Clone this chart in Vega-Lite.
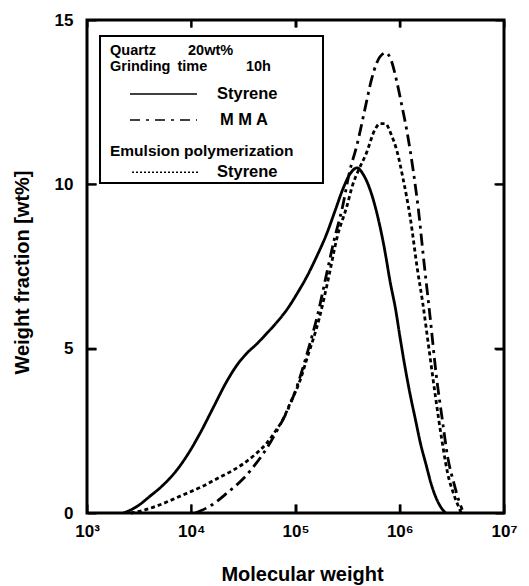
{
  "$schema": "https://vega.github.io/schema/vega-lite/v6.json",
  "width": 417,
  "height": 493,
  "autosize": {"type": "none"},
  "padding": {"left": 87, "top": 20, "right": 25, "bottom": 73},
  "config": {
    "font": "Liberation Sans",
    "view": {"stroke": "black", "strokeWidth": 3},
    "axis": {
      "domain": false, "grid": false, "ticks": true, "offset": -9,
      "labelFont": "Liberation Sans", "labelFontWeight": "bold", "labelFontSize": 17, "labelColor": "black",
      "tickColor": "#000000", "tickOpacity": 1, "tickWidth": 2, "tickSize": 9,
      "titleFont": "Liberation Sans", "titleFontWeight": "bold", "titleFontSize": 20, "titleColor": "black"
    },
    "text": {"font": "Liberation Sans", "fontWeight": "bold", "fontSize": 14.5, "color": "black", "align": "left", "baseline": "middle"}
  },
  "datasets": {
    "one": [{}],
    "xt": [{"v": 1000}, {"v": 10000}, {"v": 100000}, {"v": 1000000}, {"v": 10000000}],
    "yt": [{"v": 0}, {"v": 5}, {"v": 10}, {"v": 15}],
    "curves": [
    {"series": "Styrene", "M": 2239, "w": 0},
    {"series": "Styrene", "M": 3020, "w": 0.2},
    {"series": "Styrene", "M": 3981, "w": 0.5},
    {"series": "Styrene", "M": 5370, "w": 0.85},
    {"series": "Styrene", "M": 7244, "w": 1.3},
    {"series": "Styrene", "M": 9333, "w": 1.8},
    {"series": "Styrene", "M": 12023, "w": 2.4},
    {"series": "Styrene", "M": 16218, "w": 3.2},
    {"series": "Styrene", "M": 21878, "w": 4.0},
    {"series": "Styrene", "M": 28184, "w": 4.55},
    {"series": "Styrene", "M": 33884, "w": 4.85},
    {"series": "Styrene", "M": 42658, "w": 5.15},
    {"series": "Styrene", "M": 52481, "w": 5.45},
    {"series": "Styrene", "M": 66069, "w": 5.8},
    {"series": "Styrene", "M": 83176, "w": 6.2},
    {"series": "Styrene", "M": 104710, "w": 6.7},
    {"series": "Styrene", "M": 128820, "w": 7.2},
    {"series": "Styrene", "M": 162180, "w": 7.85},
    {"series": "Styrene", "M": 199530, "w": 8.5},
    {"series": "Styrene", "M": 239880, "w": 9.2},
    {"series": "Styrene", "M": 288400, "w": 9.9},
    {"series": "Styrene", "M": 338840, "w": 10.35},
    {"series": "Styrene", "M": 389050, "w": 10.5},
    {"series": "Styrene", "M": 446680, "w": 10.3},
    {"series": "Styrene", "M": 537030, "w": 9.7},
    {"series": "Styrene", "M": 616600, "w": 9.0},
    {"series": "Styrene", "M": 707950, "w": 8.1},
    {"series": "Styrene", "M": 812830, "w": 7.0},
    {"series": "Styrene", "M": 912010, "w": 6.2},
    {"series": "Styrene", "M": 1000000, "w": 5.4},
    {"series": "Styrene", "M": 1122000, "w": 4.45},
    {"series": "Styrene", "M": 1258900, "w": 3.6},
    {"series": "Styrene", "M": 1412500, "w": 2.85},
    {"series": "Styrene", "M": 1584900, "w": 2.1},
    {"series": "Styrene", "M": 1778300, "w": 1.5},
    {"series": "Styrene", "M": 1995300, "w": 0.9},
    {"series": "Styrene", "M": 2238700, "w": 0.45},
    {"series": "Styrene", "M": 2511900, "w": 0.15},
    {"series": "Styrene", "M": 2754200, "w": 0},
    {"series": "MMA", "M": 10965, "w": 0},
    {"series": "MMA", "M": 15849, "w": 0.25},
    {"series": "MMA", "M": 21878, "w": 0.6},
    {"series": "MMA", "M": 31623, "w": 1.05},
    {"series": "MMA", "M": 41687, "w": 1.5},
    {"series": "MMA", "M": 53703, "w": 2.0},
    {"series": "MMA", "M": 67608, "w": 2.55},
    {"series": "MMA", "M": 83176, "w": 3.1},
    {"series": "MMA", "M": 95499, "w": 3.55},
    {"series": "MMA", "M": 109650, "w": 4.1},
    {"series": "MMA", "M": 131830, "w": 4.95},
    {"series": "MMA", "M": 162180, "w": 6.0},
    {"series": "MMA", "M": 199530, "w": 7.3},
    {"series": "MMA", "M": 234420, "w": 8.3},
    {"series": "MMA", "M": 281840, "w": 9.3},
    {"series": "MMA", "M": 331130, "w": 10.4},
    {"series": "MMA", "M": 389050, "w": 11.2},
    {"series": "MMA", "M": 467740, "w": 12.35},
    {"series": "MMA", "M": 537030, "w": 13.2},
    {"series": "MMA", "M": 602560, "w": 13.7},
    {"series": "MMA", "M": 676080, "w": 13.95},
    {"series": "MMA", "M": 741310, "w": 14.0},
    {"series": "MMA", "M": 831760, "w": 13.75},
    {"series": "MMA", "M": 933250, "w": 13.15},
    {"series": "MMA", "M": 1047100, "w": 12.4},
    {"series": "MMA", "M": 1174900, "w": 11.6},
    {"series": "MMA", "M": 1349000, "w": 10.4},
    {"series": "MMA", "M": 1513600, "w": 9.2},
    {"series": "MMA", "M": 1698200, "w": 7.7},
    {"series": "MMA", "M": 1949800, "w": 6.0},
    {"series": "MMA", "M": 2238700, "w": 4.2},
    {"series": "MMA", "M": 2570400, "w": 2.8},
    {"series": "MMA", "M": 2884000, "w": 1.7},
    {"series": "MMA", "M": 3311300, "w": 0.9},
    {"series": "MMA", "M": 3715400, "w": 0.35},
    {"series": "MMA", "M": 3981100, "w": 0.1},
    {"series": "Emulsion Styrene", "M": 2630, "w": 0},
    {"series": "Emulsion Styrene", "M": 3467, "w": 0.08},
    {"series": "Emulsion Styrene", "M": 5012, "w": 0.25},
    {"series": "Emulsion Styrene", "M": 8318, "w": 0.55},
    {"series": "Emulsion Styrene", "M": 12589, "w": 0.8},
    {"series": "Emulsion Styrene", "M": 17783, "w": 1.05},
    {"series": "Emulsion Styrene", "M": 25119, "w": 1.3},
    {"series": "Emulsion Styrene", "M": 31623, "w": 1.5},
    {"series": "Emulsion Styrene", "M": 41687, "w": 1.8},
    {"series": "Emulsion Styrene", "M": 53703, "w": 2.15},
    {"series": "Emulsion Styrene", "M": 64565, "w": 2.5},
    {"series": "Emulsion Styrene", "M": 75858, "w": 2.85},
    {"series": "Emulsion Styrene", "M": 89125, "w": 3.35},
    {"series": "Emulsion Styrene", "M": 109650, "w": 4.0},
    {"series": "Emulsion Styrene", "M": 128820, "w": 4.7},
    {"series": "Emulsion Styrene", "M": 169820, "w": 5.95},
    {"series": "Emulsion Styrene", "M": 208930, "w": 7.2},
    {"series": "Emulsion Styrene", "M": 251190, "w": 8.4},
    {"series": "Emulsion Styrene", "M": 309030, "w": 9.3},
    {"series": "Emulsion Styrene", "M": 354810, "w": 10.0},
    {"series": "Emulsion Styrene", "M": 398110, "w": 10.4},
    {"series": "Emulsion Styrene", "M": 478630, "w": 10.95},
    {"series": "Emulsion Styrene", "M": 575440, "w": 11.65},
    {"series": "Emulsion Styrene", "M": 645650, "w": 11.85},
    {"series": "Emulsion Styrene", "M": 724440, "w": 11.85},
    {"series": "Emulsion Styrene", "M": 831760, "w": 11.5},
    {"series": "Emulsion Styrene", "M": 933250, "w": 11.05},
    {"series": "Emulsion Styrene", "M": 1071500, "w": 10.2},
    {"series": "Emulsion Styrene", "M": 1258900, "w": 9.0},
    {"series": "Emulsion Styrene", "M": 1479100, "w": 7.4},
    {"series": "Emulsion Styrene", "M": 1659600, "w": 6.4},
    {"series": "Emulsion Styrene", "M": 1905500, "w": 5.0},
    {"series": "Emulsion Styrene", "M": 2187800, "w": 3.6},
    {"series": "Emulsion Styrene", "M": 2511900, "w": 2.3},
    {"series": "Emulsion Styrene", "M": 2884000, "w": 1.2},
    {"series": "Emulsion Styrene", "M": 3311300, "w": 0.55},
    {"series": "Emulsion Styrene", "M": 3715400, "w": 0.15},
    {"series": "Emulsion Styrene", "M": 3890500, "w": 0}
  ]},
  "layer": [
    {
      "data": {"name": "curves"},
      "mark": {"type": "line", "interpolate": "monotone", "strokeWidth": 2.8, "color": "black"},
      "encoding": {
        "x": {"field": "M", "type": "quantitative",
          "scale": {"type": "log", "domain": [1000, 10000000], "nice": false},
          "axis": {"orient": "bottom", "values": [1000, 10000, 100000, 1000000, 10000000],
            "labelExpr": "datum.value < 5000 ? '10³' : datum.value < 50000 ? '10⁴' : datum.value < 500000 ? '10⁵' : datum.value < 5000000 ? '10⁶' : '10⁷'",
            "labelPadding": 10, "labelFlush": false, "labelOverlap": false,
            "title": "Molecular weight", "titleX": 215, "titleY": 70, "titleBaseline": "middle", "titleAlign": "center"}},
        "y": {"field": "w", "type": "quantitative",
          "scale": {"domain": [0, 15], "nice": false, "zero": false},
          "axis": {"values": [0, 5, 10, 15], "labelPadding": 14, "labelFlush": false, "labelOverlap": false,
            "title": "Weight fraction [wt%]", "titleX": -74, "titleY": 252, "titleAngle": -90, "titleBaseline": "middle", "titleAlign": "center"}},
        "strokeDash": {"field": "series", "type": "nominal",
          "scale": {"domain": ["Styrene", "MMA", "Emulsion Styrene"], "range": [[1, 0], [12, 5, 3, 5], [4, 3]]},
          "legend": null}
      }
    },
    {
      "data": {"name": "xt"},
      "mark": {"type": "tick", "orient": "vertical", "size": 17, "thickness": 2, "color": "black", "opacity": 1, "clip": true},
      "encoding": {"x": {"field": "v", "type": "quantitative", "axis": null}, "y": {"datum": 0, "axis": null}}
    },
    {
      "data": {"name": "xt"},
      "mark": {"type": "tick", "orient": "vertical", "size": 15, "thickness": 2, "color": "black", "opacity": 1, "clip": true},
      "encoding": {"x": {"field": "v", "type": "quantitative", "axis": null}, "y": {"datum": 15, "axis": null}}
    },
    {
      "data": {"name": "yt"},
      "mark": {"type": "tick", "orient": "horizontal", "size": 19, "thickness": 2, "color": "black", "opacity": 1, "clip": true},
      "encoding": {"y": {"field": "v", "type": "quantitative", "axis": null}, "x": {"datum": 1000, "axis": null}}
    },
    {
      "data": {"name": "yt"},
      "mark": {"type": "tick", "orient": "horizontal", "size": 19, "thickness": 2, "color": "black", "opacity": 1, "clip": true},
      "encoding": {"y": {"field": "v", "type": "quantitative", "axis": null}, "x": {"datum": 10000000, "axis": null}}
    },
    {
      "data": {"name": "one"},
      "mark": {"type": "rect", "fill": "white", "stroke": "black", "strokeWidth": 2},
      "encoding": {
        "x": {"datum": 1333, "type": "quantitative", "axis": {"orient": "top", "offset": -7, "tickSize": 7, "values": [1000, 10000, 100000, 1000000, 10000000], "labels": false, "title": null}},
        "x2": {"datum": 183600},
        "y": {"datum": 14.51, "type": "quantitative", "axis": {"orient": "right", "values": [0, 5, 10, 15], "labels": false, "title": null}},
        "y2": {"datum": 10.04}
      }
    },
    {"data": {"name": "one"}, "mark": {"type": "text"}, "encoding": {"x": {"datum": 1662, "axis": null}, "y": {"datum": 14.06, "axis": null}, "text": {"value": "Quartz"}}},
    {"data": {"name": "one"}, "mark": {"type": "text"}, "encoding": {"x": {"datum": 9311, "axis": null}, "y": {"datum": 14.06, "axis": null}, "text": {"value": "20wt%"}}},
    {"data": {"name": "one"}, "mark": {"type": "text"}, "encoding": {"x": {"datum": 1662, "axis": null}, "y": {"datum": 13.57, "axis": null}, "text": {"value": "Grinding"}}},
    {"data": {"name": "one"}, "mark": {"type": "text"}, "encoding": {"x": {"datum": 7380, "axis": null}, "y": {"datum": 13.57, "axis": null}, "text": {"value": "time"}}},
    {"data": {"name": "one"}, "mark": {"type": "text"}, "encoding": {"x": {"datum": 33497, "axis": null}, "y": {"datum": 13.57, "axis": null}, "text": {"value": "10h"}}},
    {"data": {"name": "one"}, "mark": {"type": "rule", "strokeWidth": 1.5, "color": "black"}, "encoding": {"x": {"datum": 2583, "axis": null}, "x2": {"datum": 11350}, "y": {"datum": 12.75, "axis": null}}},
    {"data": {"name": "one"}, "mark": {"type": "text", "fontSize": 16.5}, "encoding": {"x": {"datum": 17660, "axis": null}, "y": {"datum": 12.75, "axis": null}, "text": {"value": "Styrene"}}},
    {"data": {"name": "one"}, "mark": {"type": "rule", "strokeWidth": 1.5, "color": "black", "strokeDash": [10, 6, 3, 6]}, "encoding": {"x": {"datum": 2583, "axis": null}, "x2": {"datum": 11350}, "y": {"datum": 11.96, "axis": null}}},
    {"data": {"name": "one"}, "mark": {"type": "text", "fontSize": 16.5}, "encoding": {"x": {"datum": 18880, "axis": null}, "y": {"datum": 11.96, "axis": null}, "text": {"value": "M M A"}}},
    {"data": {"name": "one"}, "mark": {"type": "text", "fontSize": 15.5}, "encoding": {"x": {"datum": 1662, "axis": null}, "y": {"datum": 11.01, "axis": null}, "text": {"value": "Emulsion polymerization"}}},
    {"data": {"name": "one"}, "mark": {"type": "rule", "strokeWidth": 1.5, "color": "black", "strokeDash": [2, 2]}, "encoding": {"x": {"datum": 2704, "axis": null}, "x2": {"datum": 12130}, "y": {"datum": 10.37, "axis": null}}},
    {"data": {"name": "one"}, "mark": {"type": "text", "fontSize": 16.5}, "encoding": {"x": {"datum": 17660, "axis": null}, "y": {"datum": 10.37, "axis": null}, "text": {"value": "Styrene"}}}
  ],
  "resolve": {"axis": {"x": "independent", "y": "independent"}}
}
